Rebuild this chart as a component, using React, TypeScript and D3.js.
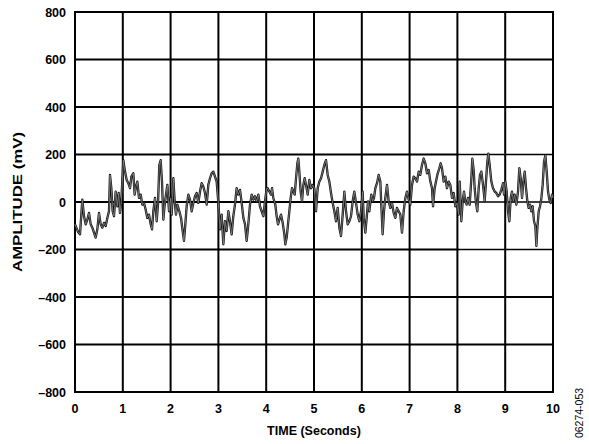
import React from "react";
import * as d3 from "d3";

const timeS: number[] = [
  0.0, 0.063, 0.105, 0.153, 0.188, 0.223, 0.258, 0.293, 0.328, 0.363, 0.397, 0.432, 0.467, 0.502, 0.537, 0.572, 0.607, 0.642, 0.676, 0.711, 0.732, 0.76, 0.788, 0.816, 0.851, 0.886, 0.914, 0.941, 0.969,
  1.011, 1.046, 1.081, 1.116, 1.151, 1.179, 1.22, 1.248, 1.276, 1.304, 1.339, 1.374, 1.409, 1.444, 1.478, 1.513, 1.548, 1.583, 1.611, 1.639, 1.674, 1.709, 1.736, 1.764, 1.792, 1.82, 1.848, 1.876, 1.904, 1.932, 1.967, 2.001,
  2.022, 2.057, 2.085, 2.113, 2.141, 2.183, 2.218, 2.252, 2.28, 2.308, 2.336, 2.371, 2.406, 2.441, 2.476, 2.51, 2.545, 2.58, 2.615, 2.65, 2.685, 2.72, 2.755, 2.789, 2.824, 2.859, 2.894, 2.929, 2.964, 2.999,
  3.033, 3.068, 3.103, 3.138, 3.173, 3.208, 3.242, 3.277, 3.312, 3.347, 3.382, 3.417, 3.452, 3.487, 3.522, 3.557, 3.591, 3.626, 3.661, 3.696, 3.731, 3.766, 3.801, 3.836, 3.87, 3.905, 3.94, 3.975, 4.01,
  4.031, 4.066, 4.101, 4.122, 4.149, 4.191, 4.219, 4.247, 4.275, 4.31, 4.345, 4.38, 4.4, 4.428, 4.456, 4.484, 4.512, 4.54, 4.568, 4.596, 4.624, 4.652, 4.672, 4.693, 4.721, 4.749, 4.777, 4.805, 4.833, 4.868, 4.903, 4.937, 4.972, 5.007,
  5.042, 5.077, 5.112, 5.147, 5.182, 5.216, 5.251, 5.286, 5.321, 5.356, 5.391, 5.426, 5.46, 5.495, 5.53, 5.565, 5.6, 5.635, 5.67, 5.705, 5.74, 5.774, 5.809, 5.844, 5.879, 5.914, 5.949, 5.984, 6.018,
  6.039, 6.074, 6.102, 6.13, 6.157, 6.199, 6.227, 6.255, 6.283, 6.318, 6.353, 6.388, 6.408, 6.436, 6.464, 6.492, 6.527, 6.562, 6.597, 6.632, 6.667, 6.701, 6.736, 6.771, 6.806, 6.841, 6.876, 6.911, 6.945, 6.98,
  7.015, 7.05, 7.085, 7.12, 7.155, 7.19, 7.224, 7.259, 7.294, 7.329, 7.364, 7.399, 7.434, 7.469, 7.49, 7.524, 7.552, 7.58, 7.622, 7.65, 7.678, 7.713, 7.748, 7.782, 7.817, 7.852, 7.887, 7.922, 7.957, 7.992, 8.026,
  8.048, 8.082, 8.11, 8.138, 8.166, 8.194, 8.222, 8.257, 8.292, 8.312, 8.34, 8.361, 8.389, 8.417, 8.445, 8.473, 8.501, 8.536, 8.571, 8.598, 8.626, 8.647, 8.675, 8.71, 8.745, 8.78, 8.815, 8.85, 8.884, 8.919, 8.954, 8.975,
  9.003, 9.031, 9.059, 9.087, 9.115, 9.142, 9.17, 9.198, 9.233, 9.268, 9.296, 9.324, 9.352, 9.38, 9.408, 9.436, 9.464, 9.491, 9.519, 9.547, 9.575, 9.603, 9.631, 9.652, 9.673, 9.701, 9.729, 9.757, 9.784, 9.812, 9.84, 9.868, 9.896, 9.924, 9.952, 9.98, 10.0,
];

const amplitudeMv: number[] = [
  -94, -125, -136, 10, -60, -94, -74, -46, -94, -108, -129, -150, -115, -46, -94, -108, -88, -101, -67, -39, 114, 58, -39, -60, 44, -18, 38, -46, 3,
  176, 128, 93, 79, 58, 107, 121, 31, 65, 86, 17, 31, -11, -4, -32, -67, -53, -94, -115, -39, 17, -81, -11, 156, 176, 86, -74, -11, 31, 72, -39, 17,
  -53, 100, 3, -53, -11, -39, -67, -122, -164, -94, -18, 31, 10, -39, -4, 24, 38, -4, 44, 79, 65, 38, -11, 72, 100, 121, 128, 107, 86, -4,
  -115, -53, -178, -81, -122, -39, -81, -136, -60, -11, 58, 31, 51, -4, -67, -94, -164, -94, -11, 31, 10, 24, 3, 31, -18, -39, -60, 3, 58,
  58, 44, 31, 58, 17, -11, -60, -94, -74, -53, -88, -136, -178, -150, -94, -39, 17, 58, 44, 31, 100, 163, 183, 128, 44, 3, 72, 100, 72, 31, 93, 58, 72, 58,
  -39, 58, 86, 100, 128, 156, 176, 114, 86, 38, -4, -39, -81, -25, -108, -143, -53, 44, -39, -94, -81, -60, 3, 44, -4, -53, -81, -39, 44,
  -67, -129, -67, 3, -39, 31, 3, 17, 58, 79, 114, 86, -11, -136, -39, 17, 72, 3, -25, -4, -46, -67, -25, -39, -53, -129, -39, 17, 44, 10,
  -11, 72, 107, 100, 86, 128, 114, 156, 183, 163, 121, 135, 86, 58, -18, 58, 86, 114, 142, 163, 142, 86, 107, 58, 86, 72, 17, 38, -18, -4, -53,
  86, -81, 3, 44, 3, -11, 17, -11, 100, 183, 135, 58, -4, -39, 58, 114, 128, 72, 3, 86, 169, 204, 156, 86, 58, 44, 38, 24, 31, 51, 79, 31,
  86, 44, -39, -81, 17, 44, 3, 31, -11, 44, 142, 100, 17, 86, 128, 58, 3, -25, -11, -39, -18, -81, -101, -185, -108, -39, -18, 17, 72, 169, 197, 128, 44, 10, -4, 31, 17,
];

const xTicks: number[] = [0, 1, 2, 3, 4, 5, 6, 7, 8, 9, 10];
const yTicks: number[] = [-800, -600, -400, -200, 0, 200, 400, 600, 800];
const yTickLabels: string[] = ["\u2013800", "\u2013600", "\u2013400", "\u2013200", "0", "200", "400", "600", "800"];

const W = 589;
const H = 444;
const L = 75;
const R = 553;
const T = 12;
const B = 392;
const FONT = "'Liberation Sans', Arial, sans-serif";

export default function App() {
  const x = d3.scaleLinear().domain([0, 10]).range([L, R]);
  const y = d3.scaleLinear().domain([-800, 800]).range([B, T]);
  const pts: [number, number][] = timeS.map((t, i) => [t, amplitudeMv[i]]);
  const line = d3
    .line<[number, number]>()
    .x((d) => x(d[0]))
    .y((d) => y(d[1]));
  const d = line(pts) || "";

  const hSegs: { v: number; a: number; b: number; w: number }[] = [];
  yTicks.forEach((v) => {
    for (let s = 0; s < 10; s++) {
      const thin = s >= 8 && (v === 200 || v === 0 || v === -200);
      hSegs.push({ v, a: s, b: s + 1, w: thin ? 1.3 : 2 });
    }
  });

  return (
    <svg
      width={W}
      height={H}
      style={{ position: "absolute", left: 0, top: 0, background: "#fff" }}
    >
      <rect x={0} y={0} width={W} height={H} fill="#fff" />
      {hSegs.map((g, i) => (
        <line
          key={"h" + i}
          x1={x(g.a) - (g.a === 0 ? 1 : 0)}
          x2={x(g.b) + 1}
          y1={y(g.v)}
          y2={y(g.v)}
          stroke="#000"
          strokeWidth={g.w}
        />
      ))}
      {xTicks.map((t) => (
        <line
          key={"v" + t}
          x1={x(t)}
          x2={x(t)}
          y1={y(800) - 1}
          y2={y(-800) + 1}
          stroke="#000"
          strokeWidth={2}
        />
      ))}
      <path d={d} fill="none" stroke="#111" strokeWidth={2.3} strokeLinejoin="round" />
      <path d={d} fill="none" stroke="#8a8a8a" strokeWidth={0.8} strokeLinejoin="round" />
      {yTicks.map((v, i) => (
        <text
          key={"yl" + v}
          x={66}
          y={y(v)}
          dy="0.36em"
          textAnchor="end"
          fontFamily={FONT}
          fontWeight="bold"
          fontSize={12.5}
          fill="#000"
        >
          {yTickLabels[i]}
        </text>
      ))}
      {xTicks.map((t) => (
        <text
          key={"xl" + t}
          x={x(t)}
          y={413}
          textAnchor="middle"
          fontFamily={FONT}
          fontWeight="bold"
          fontSize={12.5}
          fill="#000"
        >
          {String(t)}
        </text>
      ))}
      <text
        x={(L + R) / 2}
        y={435}
        textAnchor="middle"
        fontFamily={FONT}
        fontWeight="bold"
        fontSize={12.5}
        fill="#000"
      >
        TIME (Seconds)
      </text>
      <text
        transform={`translate(22, ${(T + B) / 2}) rotate(-90)`}
        textAnchor="middle"
        fontFamily={FONT}
        fontWeight="bold"
        fontSize={13}
        textLength={140}
        lengthAdjust="spacingAndGlyphs"
        fill="#000"
      >
        AMPLITUDE (mV)
      </text>
      <text
        transform="translate(583, 413) rotate(-90)"
        textAnchor="middle"
        fontFamily={FONT}
        fontSize={10.5}
        fill="#000"
      >
        06274-053
      </text>
    </svg>
  );
}
